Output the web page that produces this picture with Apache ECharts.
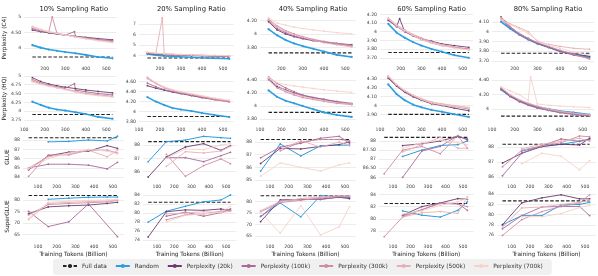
<!DOCTYPE html>
<html><head><meta charset="utf-8">
<script src="https://cdn.jsdelivr.net/npm/echarts@6/dist/echarts.min.js"></script>
<style>html,body{margin:0;padding:0;background:#fff}#c{width:598px;height:276px}</style>
</head><body><div id="c"></div><script>
// ---------------- data ----------------
const columnTitles = ['10% Sampling Ratio','20% Sampling Ratio','40% Sampling Ratio','60% Sampling Ratio','80% Sampling Ratio'];
const rowNames = ['Perplexity (C4)','Perplexity (HQ)','GLUE','SuperGLUE'];
const seriesNames = ['Random','Perplexity (20k)','Perplexity (100k)','Perplexity (300k)','Perplexity (500k)','Perplexity (700k)'];
const pplTokens = [140,180,220,260,300,350,400,460,530];
const benchTokens = [50,155,265,370,470,525];

const fullC4 = [3.72,3.78,3.72,3.76,3.78];
const fullHQ = [3.91,3.90,3.90,3.90,3.90];
const fullGLUE = [88.24,88.25,88.2,88.2,88.2];
const fullSG = [82.0,82.4,82.5,82.5,82.7];

// rows: Random, 20k, 100k, 300k, 500k, 700k
const c4_10 = [[4.10,4.02,3.96,3.92,3.88,3.84,3.79,3.72,3.68],[4.58,4.53,4.49,4.45,4.42,4.38,4.35,4.31,4.27],[4.62,4.55,4.50,4.46,4.42,4.37,4.33,4.28,4.24],[4.66,4.58,4.52,4.47,4.43,4.37,4.32,4.26,4.22],[4.70,4.60,4.53,4.48,4.43,4.36,4.31,4.25,4.19],[4.68,4.59,4.52,4.47,4.42,4.36,4.30,4.24,4.18]];
const c4_20 = [[4.15,4.05,3.98,3.93,3.89,3.85,3.80,3.75,3.70],[4.20,4.14,4.10,4.07,4.04,4.01,3.98,3.95,3.92],[4.25,4.18,4.13,4.09,4.06,4.03,4.00,3.97,3.94],[4.28,4.20,4.15,4.11,4.08,4.05,4.02,3.99,3.96],[4.30,4.22,4.17,4.13,4.10,4.07,4.04,4.01,3.98],[4.32,4.24,4.18,4.14,4.11,4.08,4.05,4.02,4.00]];
const c4_40 = [[4.07,3.98,3.91,3.86,3.82,3.78,3.74,3.69,3.66],[4.18,4.06,4.00,3.96,3.93,3.90,3.88,3.86,3.84],[4.20,4.08,4.02,3.97,3.94,3.91,3.88,3.85,3.82],[4.22,4.12,4.05,4.00,3.96,3.92,3.89,3.86,3.83],[4.21,4.10,4.04,3.99,3.95,3.91,3.87,3.84,3.81],[4.24,4.16,4.13,4.10,4.08,4.06,4.04,4.02,4.00]];
const c4_60 = [[4.09,3.99,3.93,3.88,3.84,3.80,3.77,3.73,3.70],[4.13,4.06,4.00,3.96,3.92,3.89,3.86,3.84,3.82],[4.14,4.06,4.00,3.95,3.91,3.87,3.84,3.82,3.80],[4.15,4.07,4.01,3.96,3.92,3.88,3.85,3.82,3.80],[4.16,4.08,4.02,3.97,3.93,3.88,3.85,3.82,3.79],[4.15,4.07,4.01,3.96,3.91,3.87,3.84,3.81,3.79]];
const c4_80 = [[4.10,4.03,3.97,3.92,3.88,3.84,3.80,3.77,3.74],[4.15,4.05,3.98,3.93,3.88,3.84,3.80,3.77,3.75],[4.12,4.04,3.97,3.92,3.88,3.84,3.80,3.76,3.73],[4.13,4.05,3.98,3.93,3.89,3.85,3.81,3.77,3.72],[4.14,4.08,4.04,4.00,3.90,3.87,3.85,3.83,3.82],[4.12,4.07,4.03,3.98,3.91,3.86,3.83,3.79,3.76]];

const hq_10 = [[4.27,4.18,4.10,4.05,4.02,3.97,3.92,3.84,3.79],[4.95,4.84,4.77,4.72,4.68,4.64,4.60,4.56,4.52],[4.90,4.80,4.73,4.69,4.65,4.60,4.55,4.50,4.46],[4.85,4.78,4.72,4.67,4.63,4.56,4.50,4.46,4.42],[4.88,4.79,4.72,4.67,4.62,4.55,4.49,4.45,4.41],[4.83,4.76,4.70,4.66,4.61,4.54,4.48,4.44,4.40]];
const hq_20 = [[4.29,4.20,4.13,4.07,4.04,4.01,3.97,3.93,3.89],[4.52,4.47,4.43,4.39,4.36,4.32,4.28,4.24,4.20],[4.57,4.50,4.44,4.40,4.37,4.33,4.29,4.25,4.21],[4.68,4.57,4.48,4.42,4.38,4.34,4.30,4.24,4.19],[4.66,4.56,4.48,4.43,4.39,4.35,4.31,4.26,4.21],[4.70,4.58,4.50,4.44,4.40,4.36,4.32,4.27,4.23]];
const hq_40 = [[4.24,4.14,4.08,4.04,4.00,3.95,3.90,3.86,3.83],[4.42,4.30,4.25,4.20,4.16,4.13,4.10,4.06,4.03],[4.45,4.35,4.28,4.22,4.17,4.13,4.10,4.07,4.04],[4.40,4.28,4.22,4.17,4.13,4.10,4.07,4.04,4.02],[4.43,4.32,4.24,4.19,4.15,4.11,4.08,4.05,4.03],[4.44,4.36,4.33,4.31,4.29,4.27,4.25,4.23,4.21]];
const hq_60 = [[4.24,4.13,4.06,4.01,3.98,3.95,3.93,3.90,3.87],[4.31,4.22,4.15,4.10,4.06,4.02,4.00,3.97,3.94],[4.32,4.23,4.16,4.11,4.07,4.03,4.01,3.99,3.96],[4.33,4.23,4.16,4.11,4.07,4.03,4.01,3.99,3.97],[4.34,4.24,4.17,4.12,4.08,4.04,4.02,4.00,3.98],[4.33,4.24,4.17,4.12,4.07,4.03,4.01,3.99,3.97]];
const hq_80 = [[4.27,4.18,4.12,4.07,4.03,4.00,3.97,3.95,3.92],[4.28,4.18,4.11,4.06,4.02,3.98,3.95,3.93,3.90],[4.27,4.17,4.10,4.05,4.01,3.98,3.95,3.92,3.90],[4.29,4.19,4.12,4.07,4.03,3.99,3.96,3.93,3.91],[4.30,4.20,4.13,4.08,4.04,4.00,3.97,3.94,3.92],[4.31,4.25,4.20,4.12,4.07,4.05,4.04,4.03,4.02]];

// isolated spikes: [row, col, seriesIndex, tokens, value]
const spikes = [[0,0,3,237,5.0],[0,0,2,345,4.53],[1,0,2,345,4.78],[0,1,4,211,7.6],[0,3,1,195,4.15],[1,4,5,270,4.45]];

const glue_10 = [[null,87.8,87.85,88.0,87.9,88.4],[84.8,86.3,86.7,86.8,87.4,87.1],[85.0,85.4,85.4,85.3,84.9,85.6],[84.1,86.4,86.4,86.9,86.9,86.6],[85.0,86.2,86.5,86.9,86.2,86.9],[84.9,86.0,86.6,87.0,86.8,86.5]];
const glue_20 = [[86.75,88.25,88.37,88.65,88.55,88.5],[85.6,87.1,87.85,88.1,87.6,87.95],[null,87.05,87.05,86.75,87.2,87.45],[null,87.3,85.65,86.45,86.95,86.6],[null,86.4,87.5,87.4,87.55,87.9],[null,87.0,87.7,87.65,88.0,88.1]];
const glue_40 = [[85.7,87.85,86.9,87.7,87.75,87.75],[86.3,87.5,87.45,87.65,87.8,88.0],[86.75,87.6,87.9,88.3,88.45,87.9],[null,87.3,88.0,88.2,88.2,88.1],[null,87.4,88.1,87.6,88.0,87.7],[85.3,86.35,86.0,85.7,86.2,86.35]];
const glue_60 = [[null,87.15,87.5,87.75,87.8,88.0],[null,87.75,87.85,88.0,88.25,88.1],[null,86.0,87.45,87.7,88.3,88.05],[86.2,87.5,87.7,87.3,88.3,87.6],[null,87.4,87.8,88.2,87.6,87.6],[null,87.6,87.9,88.05,87.9,87.8]];
const glue_80 = [[null,87.75,88.05,88.2,88.4,88.55],[86.95,87.6,88.05,88.2,88.15,88.6],[86.1,87.6,88.1,88.55,88.4,88.5],[86.7,87.8,88.1,88.3,88.75,88.7],[null,87.9,88.2,88.4,88.6,88.4],[null,86.9,87.6,87.4,86.5,87.1]];

const sg_10 = [[null,80.3,80.8,81.2,81.3,81.3],[74.0,77.0,77.5,77.8,78.5,79.0],[75.0,68.4,70.5,78.3,null,64.0],[73.5,78.0,78.5,78.8,79.2,79.8],[71.5,78.5,79.0,79.3,79.5,80.0],[72.0,79.0,79.5,79.8,80.0,80.3]];
const sg_20 = [[78.0,80.4,81.5,82.5,82.9,84.0],[74.7,80.3,80.7,80.6,80.9,80.6],[null,79.3,80.2,79.3,80.1,80.9],[null,78.5,79.6,79.8,80.4,80.6],[null,79.8,80.0,80.3,80.1,80.4],[null,78.0,79.5,79.8,80.2,81.5]];
const sg_40 = [[73.5,79.3,73.3,82.5,82.0,81.7],[71.2,80.7,80.8,81.0,81.8,81.2],[73.5,80.2,81.0,80.8,82.0,82.0],[75.5,79.5,80.5,81.5,82.2,82.5],[76.0,80.0,81.2,82.0,82.5,82.3],[75.2,66.2,78.2,65.4,69.0,77.7]];
const sg_60 = [[null,81.3,80.6,80.3,81.4,82.8],[null,80.6,82.0,82.6,83.3,83.2],[null,80.5,81.5,82.6,82.5,81.4],[77.1,80.3,81.5,82.5,82.4,82.0],[null,80.3,81.0,81.2,80.9,83.6],[null,80.8,81.3,82.2,82.8,83.3]];
const sg_80 = [[78.0,79.8,79.8,81.9,82.0,82.4],[78.0,82.3,83.3,83.9,83.1,83.1],[77.2,79.8,81.5,81.6,81.6,79.8],[75.9,79.0,80.6,81.6,82.3,83.9],[77.5,81.3,81.5,82.0,82.4,82.8],[null,79.6,79.6,80.2,81.4,81.8]];

// tick labels
const yTicksC4 = [[4,4.5,5],[4,5,6,7],[3.8,4,4.2],[3.7,3.8,3.9,4,4.1,4.2],[3.7,3.8,3.9,4,4.1]];
const yTicksHQ = [[3.75,4,4.25,4.5,4.75,5],[3.8,4,4.2,4.4,4.6],[3.8,4,4.2,4.4],[3.9,4,4.1,4.2,4.3],[4,4.2,4.4]];
const yTicksGLUE = [[84,85,86,87,88],[86,87,88],[85,86,87,88],[86,86.5,87,87.5,88],[86,87,88,89]];
const yTicksSG = [[65,70,75,80],[74,76,78,80,82,84],[65,70,75,80],[78,80,82,84],[76,78,80,82,84]];
const xTicksTop = [200,300,400,500];
const xTicksMid = [100,200,300,400,500];
const xTicksBench = [100,200,300,400,500];

// axis ranges
const yMinRows = [[3.53,3.3,3.57,3.64,3.68],[3.64,3.75,3.72,3.79,3.79],[83.6,85.3,84.92,85.8,85.75],[62.1,73.8,62.8,76.4,74.8]];
const yMaxRows = [[5.125,8.05,4.31,4.215,4.19],[5.08,4.775,4.51,4.37,4.5],[88.75,88.9,88.71,88.44,88.95],[83.5,84.67,84.1,84.38,84.45]];

// ---------------- layout / style ----------------
const colors = ['#2c9ee0','#6a3b6c','#a86a9a','#cf8ca6','#e8b0b6','#f5d3ca'];
const colTopGeom = [[21,95.6],[139,94.5],[260,96],[380,93],[492,102]];
const colBotGeom = [[23,101],[143,93.5],[255,101],[379,94.5],[497,99]];
const rowGeom = [[13,50],[73,51],[133,48],[192,49]];
const FONT = 'DejaVu Sans';

const rowData = [[c4_10,c4_20,c4_40,c4_60,c4_80],[hq_10,hq_20,hq_40,hq_60,hq_80],[glue_10,glue_20,glue_40,glue_60,glue_80],[sg_10,sg_20,sg_40,sg_60,sg_80]];
const rowFull = [fullC4, fullHQ, fullGLUE, fullSG];
const rowTicks = [yTicksC4, yTicksHQ, yTicksGLUE, yTicksSG];
const rowXTicks = [xTicksTop, xTicksMid, xTicksBench, xTicksBench];

function fmt(v){ const r = Math.round(v*100)/100; return Number.isInteger(r) ? String(r) : r.toFixed(2); }

const grids=[], xAxes=[], yAxes=[], series=[], titles=[];
for (let c=0;c<5;c++){
  const g = colTopGeom[c];
  titles.push({text: columnTitles[c], left: g[0]+g[1]/2, top: 1, textAlign:'center',
    textStyle:{fontFamily:FONT, fontSize:6.8, fontWeight:'normal', color:'#222'}});
}
for (let r=0;r<4;r++){
  for (let c=0;c<5;c++){
    const p = r*5+c;
    const isPpl = r<2;
    const g = isPpl ? colTopGeom[c] : colBotGeom[c];
    const tokens = isPpl ? pplTokens : benchTokens;
    grids.push({left:g[0], width:g[1], top:rowGeom[r][0], height:rowGeom[r][1]});
    xAxes.push({gridIndex:p, type:'value', min: isPpl?100:20, max: isPpl?550:560,
      axisLine:{show:false}, axisTick:{show:false, customValues: rowXTicks[r]},
      axisLabel:{customValues: rowXTicks[r], fontFamily:FONT, fontSize:4.6, color:'#444', margin:3},
      splitLine:{show:false},
      name: r===3 ? 'Training Tokens (Billion)' : '', nameLocation:'middle', nameGap:10,
      nameTextStyle:{fontFamily:FONT, fontSize:5.8, color:'#222'}});
    yAxes.push({gridIndex:p, type:'value', min: yMinRows[r][c], max: yMaxRows[r][c],
      axisLine:{show:false}, axisTick:{show:false, customValues: rowTicks[r][c]},
      axisLabel:{customValues: rowTicks[r][c], formatter: fmt, fontFamily:FONT, fontSize:4.6, color:'#444', margin:3},
      splitLine:{show:true, lineStyle:{color:'#e4e4e4', width:0.7}},
      name: c===0 ? rowNames[r] : '', nameLocation:'middle', nameRotate:90, nameGap: 13,
      nameTextStyle:{fontFamily:FONT, fontSize:5.8, color:'#222'}});
    const fv = rowFull[r][c];
    series.push({type:'line', name:'Full data', xAxisIndex:p, yAxisIndex:p,
      data:[[tokens[0], fv],[tokens[tokens.length-1], fv]], symbol:'none',
      lineStyle:{width:1.1, color:'#222', type:[3.5,1.8]}, itemStyle:{color:'#222'}, z:2, animation:false, silent:true});
    const vals = rowData[r][c];
    [0,1,2,3,4,5].forEach(s => {
      let pts = [];
      tokens.forEach((x,i)=>{ if (vals[s][i] !== null) pts.push([x, vals[s][i]]); });
      spikes.forEach(sp => { if (sp[0]===r && sp[1]===c && sp[2]===s) pts.push([sp[3], sp[4]]); });
      pts.sort((a,b)=>a[0]-b[0]);
      series.push({type:'line', name: seriesNames[s], xAxisIndex:p, yAxisIndex:p, data: pts,
        symbol:'circle', symbolSize: s===0 && isPpl ? 2.2 : 1.8, showSymbol:true,
        lineStyle:{width: s===0 ? (isPpl?1.6:1.0) : 0.9, color: colors[s]},
        itemStyle:{color: colors[s]}, z: 2, animation:false, silent:true});
    });
  }
}

const chart = echarts.init(document.getElementById('c'), null, {renderer:'canvas', width:598, height:276});
chart.setOption({
  animation:false,
  backgroundColor:'#ffffff',
  title: titles,
  grid: grids, xAxis: xAxes, yAxis: yAxes, series: series,
  legend: {data:['Full data', ...seriesNames], left:53, top:259, itemWidth:14, itemHeight:5, itemGap:8,
    textStyle:{fontFamily:FONT, fontSize:5.8, color:'#333'}, backgroundColor:'#f0f0f0', borderRadius:3,
    padding:[4,9,6,9], selectedMode:false}
});
</script></body></html>
